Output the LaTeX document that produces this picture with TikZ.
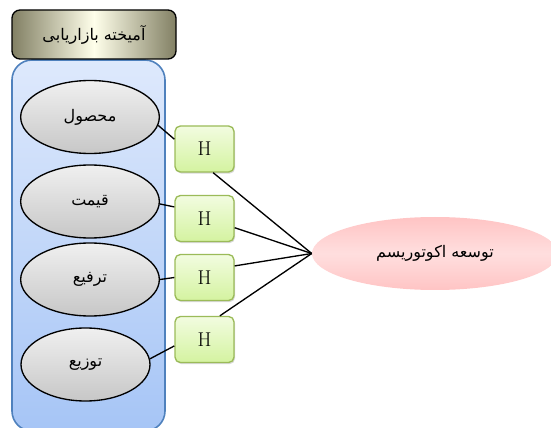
\documentclass[tikz,border=0pt]{standalone}
\usepackage{fontspec}
\newfontfamily\arabicfont[Script=Arabic]{DejaVu Sans}
\TeXXeTstate=1
\usetikzlibrary{shapes.geometric, shadows}

\definecolor{mixedge}{RGB}{130,128,100}
\definecolor{grpline}{RGB}{79,129,189}
\definecolor{grptop}{RGB}{222,233,252}
\definecolor{grpbot}{RGB}{166,197,246}
\definecolor{hline}{RGB}{155,187,89}
\definecolor{htop}{RGB}{242,252,224}
\definecolor{hbot}{RGB}{212,243,160}
\definecolor{pinkc}{RGB}{255,196,196}

\newcommand{\fa}[1]{{\arabicfont\beginR #1\endR}}

\begin{document}
\begin{tikzpicture}[x=0.75pt, y=-0.75pt,
    mix/.style={draw=black, line width=1pt, rounded corners=6pt,
        left color=mixedge, right color=mixedge, middle color=white!92!yellow,
        minimum width=123pt, minimum height=36.75pt, inner sep=0pt,
        font=\fontsize{12}{14}\selectfont},
    tool/.style={ellipse, draw=black, line width=1pt,
        top color=black!6, bottom color=black!22,
        minimum width=104pt, minimum height=54.75pt, inner sep=0pt,
        font=\fontsize{12}{14}\selectfont},
    hyp/.style={draw=hline, line width=1pt, rounded corners=4pt,
        top color=htop, bottom color=hbot,
        drop shadow={shadow xshift=0.8pt, shadow yshift=-1.2pt, opacity=0.3},
        minimum width=44.25pt, minimum height=34.5pt, inner sep=0pt,
        font=\fontsize{15}{17}\selectfont},
    goal/.style={ellipse, draw=none,
        top color=pinkc, bottom color=pinkc, middle color=pinkc!55,
        minimum width=184.5pt, minimum height=54.75pt, inner sep=0pt,
        font=\fontsize{12}{14}\selectfont},
    link/.style={draw=black, line width=1pt}]
        \clip (0,0) rectangle (551,428);
        %
        \draw[draw=grpline, line width=1.2pt, rounded corners=15pt,
            top color=grptop, bottom color=grpbot] (12,60) rectangle (165,431);
        \node [mix] (mix) at (94,34.5) {\fa{آمیخته بازاریابی}};
        %
        \node [tool] (m1) at (90,117) {\fa{محصول}};
        \node [tool] (m2) at (90,201.5) {\fa{قیمت}};
        \node [tool] (m3) at (90,279.5) {\fa{ترفیع}};
        \node [tool, minimum width=96.75pt] (m4) at (85.5,364.5) {\fa{توزیع}};
        %
        \node [hyp] (h1) at (204.5,149) {H};
        \node [hyp] (h2) at (204.5,218.5) {H};
        \node [hyp] (h3) at (204.5,277.5) {H};
        \node [hyp] (h4) at (204.5,339.5) {H};
        %
        \node [goal] (eco) at (435,253.5) {\fa{توسعه اکوتوریسم}};
        %
        \draw [link] (m1.-7) -- (h1.162);
        \draw [link] (m2.-2) -- (h2.159);
        \draw [link] (m3.east) -- (h3.west);
        \draw [link] (m4.5) -- (h4.-168);
        %
        \draw [link] (h1.-70) -- (eco.west);
        \draw [link] (h2.-17) -- (eco.west);
        \draw [link] (h3.21) -- (eco.west);
        \draw [link] (h4.57) -- (eco.west);
\end{tikzpicture}
\end{document}
